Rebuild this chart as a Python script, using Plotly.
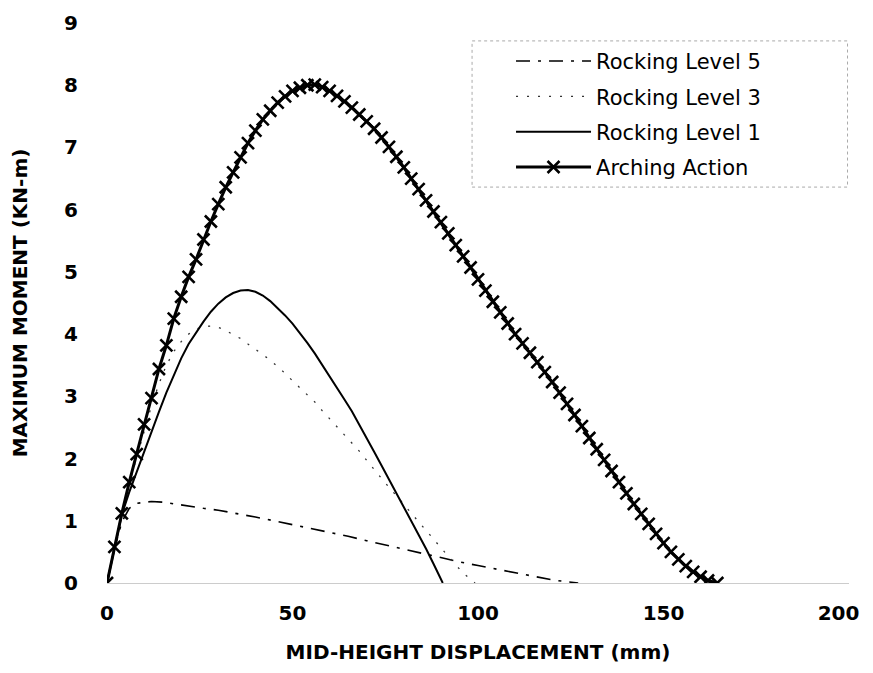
import plotly.graph_objects as go

# ---------------- data ----------------
arch_x = [0, 2, 4, 6, 8, 10, 12, 14, 16, 18, 20, 22, 24, 26, 28, 30, 32, 34, 36, 38,
          40, 42, 44, 46, 48, 50, 52, 54, 56, 58, 60, 62, 64, 66, 68, 70, 72, 74, 76, 78,
          80, 82, 84, 86, 88, 90, 92, 94, 96, 98, 100, 102, 104, 106, 108, 110, 112, 114,
          116, 118, 120, 122, 124, 126, 128, 130, 132, 134, 136, 138, 140, 142, 144, 146,
          148, 150, 152, 154, 156, 158, 160, 162, 164.5]
arch_y = [0.0, 0.58, 1.12, 1.62, 2.07, 2.55, 2.97, 3.44, 3.82, 4.25, 4.6, 4.92, 5.2, 5.52,
          5.81, 6.09, 6.36, 6.6, 6.84, 7.07, 7.27, 7.45, 7.59, 7.72, 7.82, 7.91, 7.96, 8.0,
          8.01, 7.97, 7.91, 7.83, 7.74, 7.64, 7.53, 7.42, 7.3, 7.16, 7.01, 6.85, 6.68, 6.5,
          6.33, 6.15, 5.97, 5.8, 5.62, 5.43, 5.25, 5.07, 4.88, 4.7, 4.52, 4.35, 4.17, 4.0,
          3.85, 3.7, 3.55, 3.39, 3.23, 3.06, 2.88, 2.7, 2.52, 2.33, 2.15, 1.98, 1.8, 1.62,
          1.44, 1.27, 1.11, 0.95, 0.79, 0.64, 0.5, 0.38, 0.27, 0.18, 0.1, 0.04, 0.0]

lvl1_x = [0, 2, 4, 6, 8, 10, 12, 14, 16, 18, 20, 22, 24, 26, 28, 30, 32, 34, 36, 38, 40,
          42, 44, 46, 48, 50, 52, 54, 56, 58, 60, 62, 64, 66, 68, 70, 72, 74, 76, 78, 80,
          82, 84, 86, 88, 90.5]
lvl1_y = [0.0, 0.57, 1.1, 1.46, 1.79, 2.11, 2.43, 2.75, 3.06, 3.35, 3.61, 3.84, 4.03,
          4.2, 4.36, 4.49, 4.59, 4.66, 4.7, 4.71, 4.68, 4.62, 4.53, 4.42, 4.3, 4.17, 4.02,
          3.86, 3.69, 3.51, 3.33, 3.14, 2.95, 2.76, 2.55, 2.33, 2.11, 1.89, 1.67, 1.45,
          1.22, 1.0, 0.78, 0.55, 0.31, 0.0]

lvl3_x = [0, 2, 4, 6, 8, 10, 12, 14, 16, 18, 20, 22, 24, 26, 28, 30, 32, 34, 36, 38, 40,
          42, 44, 46, 48, 50, 52, 54, 56, 58, 60, 62, 64, 66, 68, 70, 72, 74, 76, 78, 80,
          82, 84, 86, 88, 90, 92, 94, 96, 98, 99.2]
lvl3_y = [0.0, 0.56, 1.1, 1.6, 2.02, 2.45, 2.85, 3.2, 3.5, 3.72, 3.88, 4.0, 4.08, 4.12,
          4.13, 4.11, 4.06, 3.99, 3.93, 3.84, 3.76, 3.67, 3.58, 3.48, 3.37, 3.25, 3.14,
          3.03, 2.91, 2.77, 2.64, 2.51, 2.38, 2.25, 2.12, 1.97, 1.82, 1.68, 1.54, 1.4,
          1.27, 1.13, 0.99, 0.85, 0.7, 0.56, 0.42, 0.29, 0.16, 0.05, 0.0]

lvl5_x = [0, 2, 4, 6, 8, 10, 12, 15, 18, 22, 26, 30, 35, 40, 45, 50, 55, 60, 65, 70, 75,
          80, 85, 90, 95, 100, 105, 110, 115, 120, 124, 127]
lvl5_y = [0.0, 0.55, 0.98, 1.2, 1.28, 1.3, 1.31, 1.3, 1.27, 1.24, 1.2, 1.17, 1.12, 1.06,
          1.0, 0.94, 0.88, 0.81, 0.75, 0.68, 0.61, 0.54, 0.47, 0.41, 0.34, 0.28, 0.22,
          0.16, 0.1, 0.05, 0.02, 0.0]

x_ticks = [0, 50, 100, 150, 200]
# last label nudged left (as in the original) so that it stays inside the page
x_tick_labels = ["0", "50", "100", "150", "200\u00a0\u00a0\u00a0"]
y_ticks = [0, 1, 2, 3, 4, 5, 6, 7, 8, 9]

series_names = ["Rocking Level 5", "Rocking Level 3", "Rocking Level 1", "Arching Action"]

# ---------------- figure ----------------
fig = go.Figure()

fig.add_trace(go.Scatter(
    x=lvl5_x, y=lvl5_y, mode="lines", name=series_names[0], legendgroup="g1",
    line=dict(color="black", width=1.6, dash="14px,8px,3px,8px")))
fig.add_trace(go.Scatter(
    x=lvl3_x, y=lvl3_y, mode="lines", name=series_names[1], legendgroup="g2",
    line=dict(color="#333333", width=1.3, dash="2px,9px")))
fig.add_trace(go.Scatter(
    x=lvl1_x, y=lvl1_y, mode="lines", name=series_names[2], legendgroup="g3",
    line=dict(color="black", width=2)))
fig.add_trace(go.Scatter(
    x=arch_x, y=arch_y, mode="lines+markers", name=series_names[3], legendgroup="g4",
    line=dict(color="black", width=3),
    marker=dict(symbol="x-thin", size=12, color="black",
                line=dict(color="black", width=2.6))))

tick_font = dict(family="DejaVu Sans", size=20, color="black", weight="bold")
title_font = dict(family="DejaVu Sans", size=20, color="black", weight="bold")

# the page adds an 8 px body margin; size the figure to fit the window
fig.update_layout(
    width=865, height=657,
    margin=dict(l=99, r=24, t=15, b=82),
    paper_bgcolor="white", plot_bgcolor="white",
    showlegend=True,
    legend=dict(
        x=0.5445, y=0.968, xanchor="left", yanchor="top",
        bgcolor="rgba(0,0,0,0)", borderwidth=0,
        font=dict(family="DejaVu Sans", size=21, color="black"),
        traceorder="grouped", tracegroupgap=5, itemwidth=75),
    shapes=[dict(type="rect", xref="paper", yref="paper",
                 x0=0.492, x1=0.998, y0=0.707, y1=0.968,
                 line=dict(color="#aaaaaa", width=1, dash="dot"),
                 fillcolor="rgba(0,0,0,0)", layer="below")],
    xaxis=dict(
        range=[0, 200], tickvals=x_ticks, ticktext=x_tick_labels,
        showgrid=False, zeroline=False, showline=True, linecolor="#cccccc", linewidth=1,
        ticks="", ticklabelstandoff=12, tickfont=tick_font, automargin=False,
        ticklabeloverflow="allow",
        title=dict(text="MID-HEIGHT DISPLACEMENT (mm)", font=title_font, standoff=20)),
    yaxis=dict(
        range=[0, 9], tickvals=y_ticks, ticktext=[str(v) for v in y_ticks],
        showgrid=False, zeroline=False, showline=False,
        ticks="", ticklabelstandoff=28, tickfont=tick_font, automargin=False,
        title=dict(text="MAXIMUM MOMENT (KN-m)", font=title_font, standoff=32)),
)

fig.write_html("out.html")
